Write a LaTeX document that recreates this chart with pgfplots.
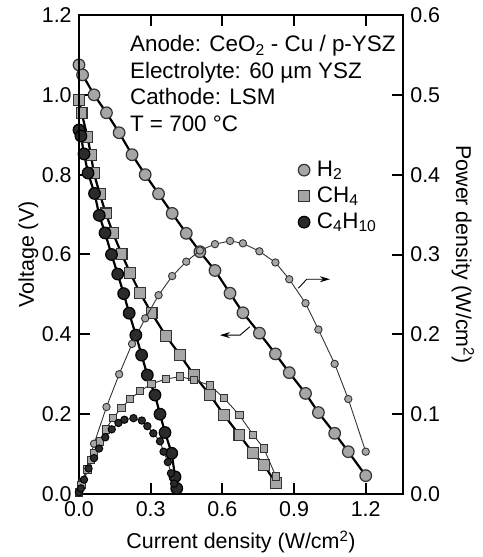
\documentclass[border=0pt]{standalone}
\usepackage{fontspec}
\setmainfont{Liberation Sans}
\usepackage{pgfplots}
\pgfplotsset{compat=1.18}
\usetikzlibrary{arrows.meta}

\definecolor{mgray}{HTML}{A6A6A6}
\definecolor{mdark}{HTML}{2A2A2A}
\definecolor{medge}{HTML}{333333}

\pgfplotsset{
  vline/.style={black, line width=2.2bp},
  pline/.style={black!80, line width=0.9bp},
  bigcirc/.style={mark=*, mark size=5.8bp, mark options={fill=mgray, draw=medge, line width=1.2bp}},
  smallcirc/.style={mark=*, mark size=3.7bp, mark options={fill=mgray, draw=medge, line width=0.9bp}},
  bigsq/.style={mark=square*, mark size=5.4bp, mark options={fill=mgray, draw=medge, line width=1.2bp}},
  smallsq/.style={mark=square*, mark size=3.7bp, mark options={fill=mgray, draw=medge, line width=0.9bp}},
  bigblk/.style={mark=*, mark size=5.8bp, mark options={fill=mdark, draw=black, line width=1.2bp}},
  smallblk/.style={mark=*, mark size=3.7bp, mark options={fill=mdark, draw=black, line width=0.9bp}},
  common/.style={
    scale only axis, width=324bp, height=479bp,
    xmin=0, xmax=1.356,
    tick align=inside,
    major tick length=11bp,
    axis line style={line width=2.2bp},
    every tick/.style={black, line width=2bp},
    /pgf/number format/assume math mode=true,
    /pgf/number format/.cd, fixed, fixed zerofill, precision=1,
  },
}

\begin{document}
\fontsize{21.5}{26}\selectfont
\begin{tikzpicture}
\begin{axis}[
  common,
  ymin=0, ymax=1.2,
  xtick={0,0.3,0.6,0.9,1.2},
  ytick={0,0.2,0.4,0.6,0.8,1.0,1.2},
  ytick pos=left,
  clip=false,
  xlabel={Current density (W/cm\textsuperscript{2})},
  ylabel={Voltage (V)},
  ylabel shift=-11bp,
  legend image code/.code={\draw[#1, only marks] plot coordinates {(0bp,0bp)};},
  legend cell align=left,
  legend style={draw=none, fill=none, at={(axis cs:0.917,0.84)}, anchor=north west,
    inner sep=0pt, row sep=3.5bp,
    nodes={inner sep=0pt, text depth=0.25em, text height=0.8em, font=\fontsize{22.5}{26}\selectfont},
    /tikz/every odd column/.append style={column sep=7bp}},
]
% legend images
\addlegendimage{only marks, bigcirc}
\addlegendentry{H\textsubscript{2}}
\addlegendimage{only marks, bigsq}
\addlegendentry{CH\textsubscript{4}}
\addlegendimage{only marks, bigblk}
\addlegendentry{C\textsubscript{4}H\textsubscript{10}}

% H2 voltage
\addplot[vline, bigcirc, forget plot] coordinates {
(0.000,1.075) (0.015,1.050) (0.063,1.000) (0.115,0.955) (0.168,0.905) (0.222,0.850)
(0.277,0.800) (0.333,0.752) (0.390,0.703) (0.449,0.653) (0.506,0.607) (0.569,0.560)
(0.632,0.503) (0.686,0.454) (0.755,0.403) (0.822,0.351) (0.880,0.304) (0.948,0.252)
(1.002,0.204) (1.070,0.152) (1.127,0.106) (1.200,0.046)};
% CH4 voltage
\addplot[vline, bigsq, forget plot] coordinates {
(0.000,0.987) (0.011,0.955) (0.035,0.895) (0.050,0.850) (0.062,0.804) (0.087,0.752)
(0.112,0.703) (0.142,0.654) (0.178,0.602) (0.214,0.554) (0.256,0.503) (0.304,0.453)
(0.364,0.396) (0.423,0.348) (0.481,0.298) (0.548,0.248) (0.607,0.198) (0.671,0.148)
(0.729,0.102) (0.774,0.073) (0.824,0.027)};
% C4H10 voltage
\addplot[vline, bigblk, forget plot] coordinates {
(0.000,0.912) (0.008,0.897) (0.021,0.852) (0.038,0.804) (0.065,0.753) (0.085,0.698)
(0.109,0.654) (0.136,0.600) (0.162,0.551) (0.187,0.502) (0.210,0.453) (0.238,0.398)
(0.262,0.348) (0.286,0.298) (0.318,0.248) (0.339,0.200) (0.360,0.154) (0.388,0.102)
(0.402,0.043) (0.409,0.014)};

% arrows
\draw[line width=0.9bp, -{Stealth[length=10bp, width=6bp]}]
  (axis cs:0.918,0.5155) -- (axis cs:0.953,0.538) -- (axis cs:1.05,0.538);
\draw[line width=0.9bp, -{Stealth[length=10bp, width=6bp]}]
  (axis cs:0.715,0.419) -- (axis cs:0.674,0.398) -- (axis cs:0.59,0.398);

% text block
\begin{scope}[every node/.style={anchor=base west, inner sep=0pt, font=\fontsize{22.5}{26}\selectfont}]
\node at (axis cs:0.213,1.108) {Anode: CeO\textsubscript{2} - Cu / p-YSZ};
\node at (axis cs:0.213,1.0414) {Electrolyte: 60 µm YSZ};
\node at (axis cs:0.213,0.9749) {Cathode: LSM};
\node at (axis cs:0.213,0.9073) {T = 700 °C};
\end{scope}
\end{axis}

\begin{axis}[
  common,
  ymin=0, ymax=0.6,
  hide x axis,
  ytick={0,0.1,0.2,0.3,0.4,0.5,0.6},
  ytick pos=right,
  yticklabel pos=right,
  ylabel near ticks,
  ylabel={Power density (W/cm\textsuperscript{2})},
  ylabel style={rotate=180},
  ylabel shift=-3bp,
  clip=false,
]
% H2 power
\addplot[pline, smallcirc] coordinates {
(0.000,0.003) (0.015,0.016) (0.063,0.063) (0.115,0.109) (0.168,0.150) (0.222,0.188)
(0.277,0.220) (0.333,0.249) (0.390,0.273) (0.449,0.291) (0.506,0.305) (0.569,0.313)
(0.632,0.317) (0.686,0.314) (0.755,0.304) (0.822,0.290) (0.880,0.269) (0.948,0.239)
(1.002,0.206) (1.070,0.163) (1.127,0.119) (1.200,0.053)};
% CH4 power
\addplot[pline, smallsq] coordinates {
(0.000,0.002) (0.011,0.011) (0.035,0.031) (0.050,0.043) (0.062,0.051) (0.087,0.066)
(0.112,0.081) (0.142,0.095) (0.178,0.108) (0.214,0.119) (0.256,0.129) (0.304,0.138)
(0.364,0.144) (0.423,0.147) (0.481,0.143) (0.548,0.136) (0.607,0.120) (0.671,0.099)
(0.729,0.074) (0.774,0.057) (0.824,0.022)};
% C4H10 power
\addplot[pline, smallblk] coordinates {
(0.000,0.002) (0.008,0.007) (0.021,0.018) (0.040,0.032) (0.063,0.045) (0.084,0.057)
(0.110,0.071) (0.137,0.081) (0.165,0.089) (0.190,0.093) (0.228,0.095) (0.263,0.092)
(0.286,0.085) (0.311,0.076) (0.339,0.066) (0.354,0.053) (0.372,0.040) (0.385,0.026)
(0.398,0.013)};
\end{axis}
\pgfresetboundingbox
\path (-79bp,-63bp) rectangle (404bp,494bp);
\end{tikzpicture}
\end{document}
